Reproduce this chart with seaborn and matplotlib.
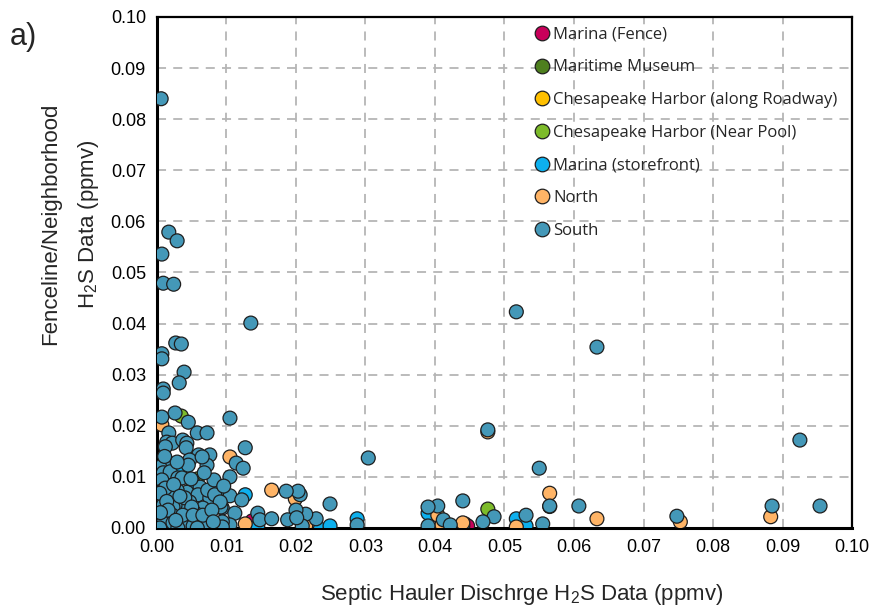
import matplotlib
matplotlib.use("Agg")
import matplotlib.pyplot as plt
from matplotlib.ticker import MultipleLocator, FormatStrFormatter
import seaborn as sns
import pandas as pd

# Septic hauler discharge H2S (x) vs. fenceline / neighborhood H2S (y), ppmv
marina_fence_x = [0.0137, 0.0443, 0.0447]
marina_fence_y = [0.0014, 0.0008, 0.0004]

maritime_museum_x = [0.0565, 0.0030, 0.0050]
maritime_museum_y = [0.0042, 0.0030, 0.0010]

harbor_roadway_x = [0.0010, 0.0040]
harbor_roadway_y = [0.0005, 0.0015]

harbor_pool_x = [0.0035, 0.0058, 0.0476]
harbor_pool_y = [0.0219, 0.0096, 0.0037]

marina_store_x = [0.0052, 0.0036, 0.0127, 0.0145, 0.0230, 0.0249, 0.0288,
                  0.0390, 0.0440, 0.0517, 0.0531, 0.0020]
marina_store_y = [0.0088, 0.0112, 0.0065, 0.0004, 0.0004, 0.0004, 0.0018,
                  0.0029, 0.0004, 0.0018, 0.0004, 0.0060]

north_x = [0.0007, 0.0105, 0.0165, 0.0199, 0.0127, 0.0216, 0.0214, 0.0404,
           0.0410, 0.0440, 0.0476, 0.0517, 0.0565, 0.0633, 0.0753, 0.0883]
north_y = [0.0202, 0.0139, 0.0074, 0.0057, 0.0008, 0.0006, 0.0004, 0.0025,
           0.0006, 0.0010, 0.0188, 0.0002, 0.0068, 0.0018, 0.0012, 0.0022]

south_x = [
    0.0006, 0.0017, 0.0029, 0.0007, 0.0009, 0.0024, 0.0135, 0.0517, 0.0633,
    0.0925, 0.0954, 0.0748, 0.0885, 0.0607, 0.0304, 0.0476, 0.0550, 0.0565,
    0.0555, 0.0531, 0.0485, 0.0469, 0.0440, 0.0412, 0.0422, 0.0404, 0.0390,
    0.0390, 0.0249, 0.0288, 0.0229, 0.0214, 0.0206, 0.0203, 0.0200, 0.0209,
    0.0105, 0.0127, 0.0114, 0.0124, 0.0105, 0.0186, 0.0105, 0.0122, 0.0094,
    0.0112, 0.0145, 0.0148, 0.0165, 0.0188, 0.0201, 0.0105, 0.0027, 0.0035,
    0.0007, 0.0007, 0.0039, 0.0032, 0.0009, 0.0009, 0.0026, 0.0045, 0.0007,
    0.0017, 0.0058, 0.0072, 0.0014, 0.0022, 0.0012, 0.0037, 0.0043, 0.0042,
    0.0060, 0.0076, 0.0047, 0.0045, 0.0017, 0.0004, 0.0072, 0.0009, 0.0019,
    0.0030, 0.0062, 0.0007, 0.0086, 0.0043, 0.0029, 0.0009, 0.0019, 0.0059,
    0.0076, 0.0047, 0.0037, 0.0092, 0.0004, 0.0026, 0.0066, 0.0055, 0.0009,
    0.0029, 0.0047, 0.0076, 0.0094, 0.0062, 0.0037, 0.0012, 0.0066, 0.0052,
    0.0094, 0.0029, 0.0065, 0.0012, 0.0040, 0.0073, 0.0083, 0.0009, 0.0023,
    0.0050, 0.0091, 0.0022, 0.0037, 0.0052, 0.0066, 0.0079, 0.0009, 0.0023,
    0.0081, 0.0004, 0.0030, 0.0058, 0.0036, 0.0082, 0.0096, 0.0004, 0.0014,
    0.0024, 0.0033, 0.0049, 0.0068, 0.0016, 0.0005, 0.0027, 0.0011,
]
south_y = [
    0.0840, 0.0579, 0.0562, 0.0536, 0.0479, 0.0477, 0.0401, 0.0423, 0.0354,
    0.0172, 0.0043, 0.0023, 0.0043, 0.0043, 0.0137, 0.0192, 0.0117, 0.0043,
    0.0008, 0.0025, 0.0022, 0.0012, 0.0053, 0.0016, 0.0006, 0.0043, 0.0041,
    0.0004, 0.0047, 0.0006, 0.0018, 0.0027, 0.0065, 0.0072, 0.0035, 0.0004,
    0.0215, 0.0157, 0.0127, 0.0117, 0.0100, 0.0072, 0.0063, 0.0055, 0.0039,
    0.0029, 0.0029, 0.0016, 0.0018, 0.0016, 0.0020, 0.0006, 0.0362, 0.0360,
    0.0341, 0.0331, 0.0305, 0.0284, 0.0272, 0.0264, 0.0225, 0.0207, 0.0217,
    0.0186, 0.0186, 0.0186, 0.0168, 0.0166, 0.0159, 0.0172, 0.0166, 0.0157,
    0.0143, 0.0143, 0.0133, 0.0123, 0.0127, 0.0119, 0.0123, 0.0108, 0.0110,
    0.0098, 0.0080, 0.0094, 0.0070, 0.0070, 0.0074, 0.0074, 0.0061, 0.0065,
    0.0059, 0.0051, 0.0043, 0.0041, 0.0045, 0.0045, 0.0039, 0.0029, 0.0022,
    0.0020, 0.0016, 0.0020, 0.0012, 0.0016, 0.0006, 0.0006, 0.0002, 0.0004,
    0.0002, 0.0129, 0.0139, 0.0078, 0.0059, 0.0074, 0.0065, 0.0045, 0.0041,
    0.0041, 0.0051, 0.0025, 0.0025, 0.0025, 0.0025, 0.0035, 0.0010, 0.0010,
    0.0012, 0.0000, 0.0000, 0.0000, 0.0098, 0.0094, 0.0082, 0.0068, 0.0052,
    0.0085, 0.0062, 0.0096, 0.0108, 0.0035, 0.0030, 0.0015, 0.0140,
]

site_names = ["Marina (Fence)", "Maritime Museum",
              "Chesapeake Harbor (along Roadway)", "Chesapeake Harbor (Near Pool)",
              "Marina (storefront)", "North", "South"]
site_colors = ["#C8005A", "#4E7F1E", "#FFC000", "#7DBB2A",
               "#0DB0EE", "#FFB466", "#4498B8"]

series = [
    (marina_fence_x, marina_fence_y),
    (maritime_museum_x, maritime_museum_y),
    (harbor_roadway_x, harbor_roadway_y),
    (harbor_pool_x, harbor_pool_y),
    (marina_store_x, marina_store_y),
    (north_x, north_y),
    (south_x, south_y),
]
frames = [pd.DataFrame({"x": xs, "y": ys, "site": name})
          for name, (xs, ys) in zip(site_names, series)]
df = pd.concat(frames, ignore_index=True)

sns.set_style("white")
plt.rcParams["font.family"] = ["Liberation Sans", "DejaVu Sans"]
plt.rcParams["mathtext.fontset"] = "custom"
plt.rcParams["mathtext.rm"] = "Liberation Sans"

fig = plt.figure(figsize=(8.78, 6.13), dpi=100)
ax = fig.add_axes([0.1788, 0.1387, 0.7916, 0.8336])

sns.scatterplot(data=df, x="x", y="y", hue="site", hue_order=site_names,
                palette=dict(zip(site_names, site_colors)), s=100,
                edgecolor="#1e1e1e", linewidth=0.9, ax=ax, zorder=3)

ax.set_xlim(0, 0.10)
ax.set_ylim(0, 0.10)
ax.xaxis.set_major_locator(MultipleLocator(0.01))
ax.yaxis.set_major_locator(MultipleLocator(0.01))
ax.xaxis.set_minor_locator(MultipleLocator(0.002))
ax.yaxis.set_minor_locator(MultipleLocator(0.002))
ax.xaxis.set_major_formatter(FormatStrFormatter("%.2f"))
ax.yaxis.set_major_formatter(FormatStrFormatter("%.2f"))

ax.tick_params(which="major", direction="inout", length=8, width=1.5,
               labelsize=13, colors="black", pad=4)
ax.tick_params(which="minor", direction="in", length=4, width=1.1)
ax.tick_params(top=False, right=False, which="both")
ax.grid(True, which="major", linestyle=(0, (5, 4)), color="#b5b5b5",
        linewidth=1.3, zorder=0)
ax.set_axisbelow(True)

for side in ["left", "bottom"]:
    ax.spines[side].set_linewidth(2.2)
    ax.spines[side].set_color("black")
for side in ["top", "right"]:
    ax.spines[side].set_linewidth(1.6)
    ax.spines[side].set_color("black")

ax.set_xlabel(r"Septic Hauler Dischrge H$_\mathregular{2}$S Data (ppmv)", fontsize=16)
ax.set_ylabel("Fenceline/Neighborhood\n" + r"H$_\mathregular{2}$S Data (ppmv)",
              fontsize=16, multialignment="center", linespacing=1.85)
ax.xaxis.set_label_coords(0.525, -0.105)
ax.yaxis.set_label_coords(-0.08, 0.595)

handles, labels = ax.get_legend_handles_labels()
ax.legend(handles, labels, loc="upper left", bbox_to_anchor=(0.533, 0.994),
          frameon=False, labelspacing=1.0, handletextpad=0.15, markerscale=1.05,
          handlelength=1.0, borderaxespad=0, prop={"family": "Open Sans", "size": 12})

fig.text(0.011, 0.94, "a)", fontsize=22, va="center")

fig.savefig("out.png", dpi=100)
